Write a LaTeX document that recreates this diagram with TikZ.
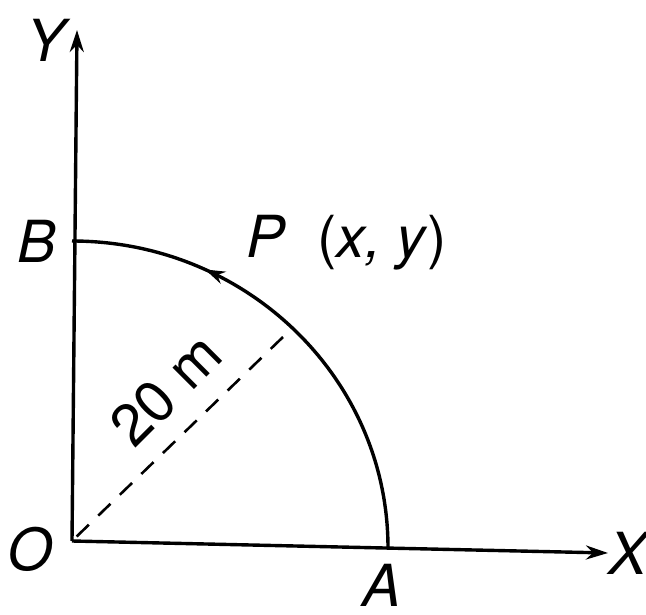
\documentclass[tikz,border=0pt]{standalone}
\usepackage{fontspec}
\setmainfont{TeX Gyre Heros}
\usetikzlibrary{arrows.meta,decorations.markings}
\begin{document}
\begin{tikzpicture}[x=1pt,y=-1pt,
  axis/.style={line width=3.4pt,-{Stealth[length=22pt,width=14pt]}},
  curve/.style={line width=3.4pt},
  lbl/.style={font=\fontsize{58}{60}\selectfont\itshape,inner sep=0pt},
  dim/.style={line width=2.6pt,dash pattern=on 17pt off 13pt}]
\useasboundingbox (0,0) rectangle (646,615);
\coordinate (O) at (72,541);
\coordinate (Ytip) at (77,30);
\coordinate (Xtip) at (608,553);
\coordinate (A) at (388,548);
\coordinate (B) at (73,237);
\coordinate (R) at (283,337);
\draw[axis] (O) -- (Ytip);
\draw[axis] (O) -- (Xtip);
\draw[curve,decoration={markings,mark=at position 0.72 with {\arrow{Stealth[length=20pt,width=13pt]}}},postaction={decorate}]
  (A) arc[start angle=0,end angle=90,x radius=316,y radius=-307];
\draw[dim] (R) -- (O);
\node[lbl] (Ylbl) at (46,40) {Y};
\node[lbl] (Xlbl) at (628,553) {X};
\node[lbl] (Olbl) at (30,549) {O};
\node[lbl] (Albl) at (382,585) {A};
\node[lbl] (Blbl) at (37,241) {B};
\node[lbl,anchor=west] (Plbl) at (246,243) {P\ \ \textup{(}x,\hspace{0.25em}y\textup{)}};
\node[font=\fontsize{58}{60}\selectfont,inner sep=0pt,rotate=45] (dist) at (166,390) {20 m};
\end{tikzpicture}
\end{document}
